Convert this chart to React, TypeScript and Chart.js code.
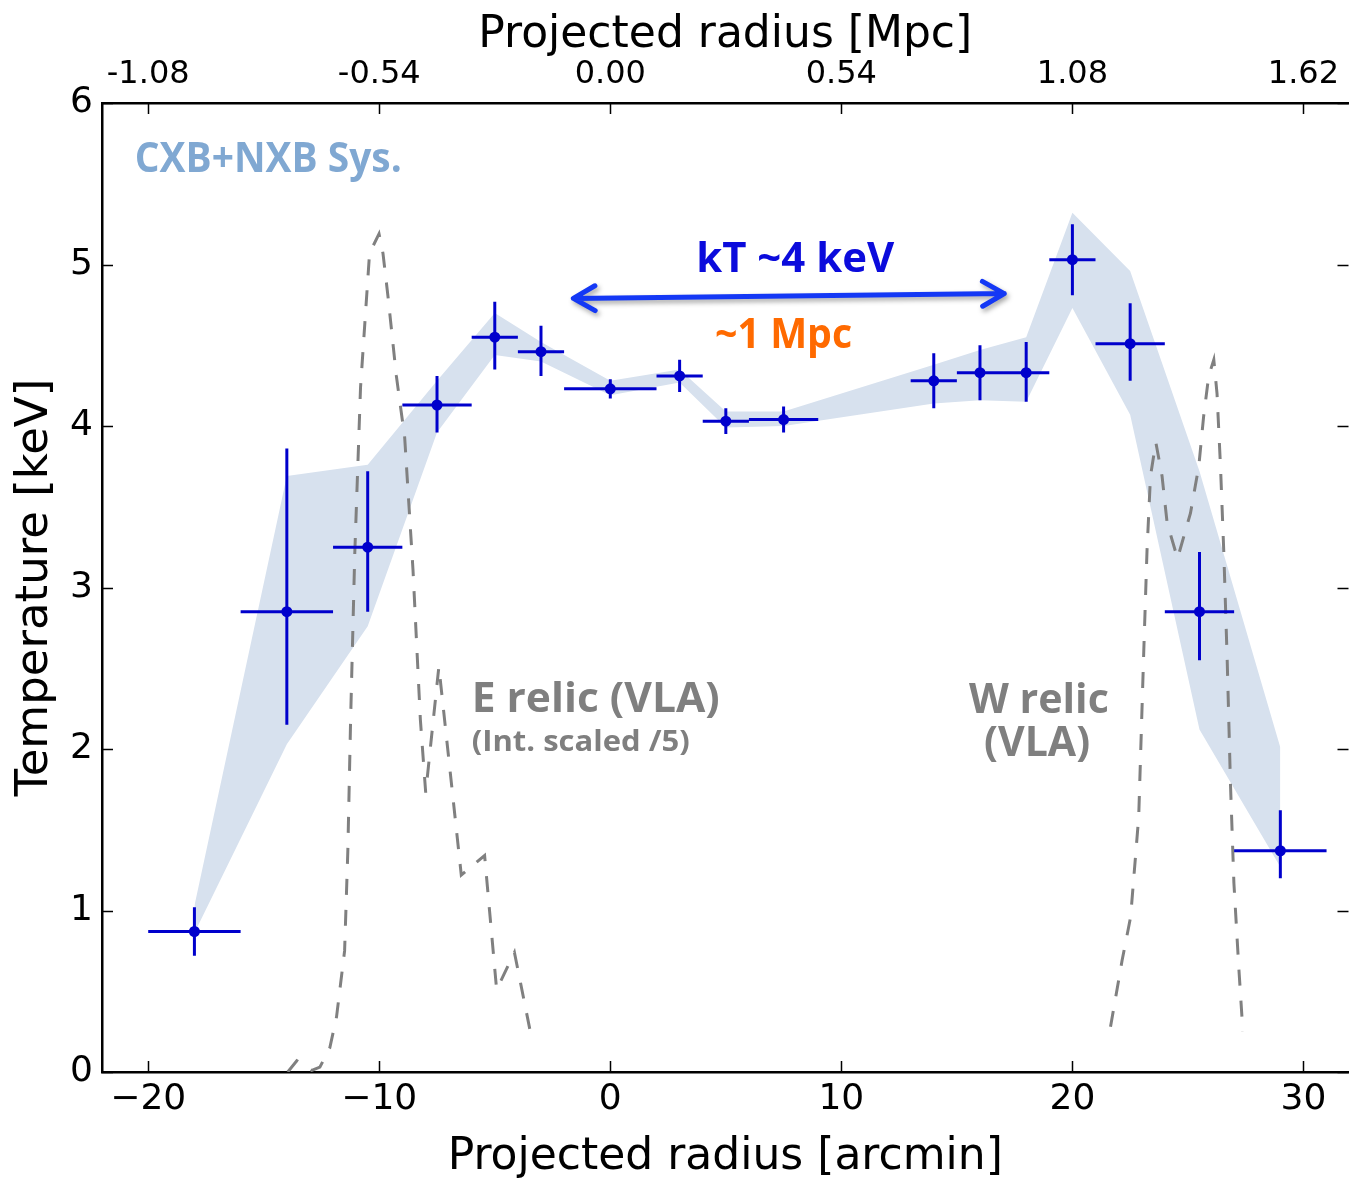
import { useEffect, useRef } from "react";
import { Chart, registerables } from "chart.js";

Chart.register(...registerables);

// Projected temperature profile across the cluster (arcmin, keV)
const radius = [-18, -14, -10.5, -7.5, -5, -3, 0, 3, 5, 7.5, 14, 16, 18, 20, 22.5, 25.5, 29];
const radiusErr = [2, 2, 1.5, 1.5, 1, 1, 2, 1, 1, 1.5, 1, 1, 1, 1, 1.5, 1.5, 2];
const temperature = [0.87, 2.85, 3.25, 4.13, 4.55, 4.46, 4.23, 4.31, 4.03, 4.04, 4.28, 4.33, 4.33, 5.03, 4.51, 2.85, 1.37];
const tempErrHi = [0.15, 1.01, 0.47, 0.18, 0.22, 0.16, 0.06, 0.1, 0.08, 0.08, 0.17, 0.17, 0.19, 0.22, 0.25, 0.37, 0.25];
const tempErrLo = [0.15, 0.7, 0.4, 0.17, 0.2, 0.15, 0.06, 0.1, 0.08, 0.08, 0.17, 0.17, 0.18, 0.22, 0.23, 0.3, 0.17];

// CXB+NXB systematic envelope
const sysUpper = [1.03, 3.69, 3.76, 4.28, 4.7, 4.52, 4.28, 4.35, 4.09, 4.09, 4.38, 4.47, 4.55, 5.32, 4.96, 3.72, 2.01];
const sysLower = [0.86, 2.03, 2.76, 3.96, 4.44, 4.4, 4.19, 4.27, 3.99, 4.0, 4.14, 4.16, 4.15, 4.73, 4.07, 2.12, 1.27];

// Radio relic brightness profiles (VLA), E relic intensity scaled by 1/5
const eRelicX = [-13.96, -13.57, -12.92, -12.57, -12.14, -11.85, -11.5, -11.36, -11.24, -11.06, -10.81, -10.42, -10.01, -9.84, -9.62, -9.26, -8.9, -8.54, -8.22, -7.99, -7.42, -6.45, -5.44, -4.92, -4.15, -3.42];
const eRelicY = [0.0, 0.07, 0.01, 0.03, 0.15, 0.34, 0.75, 1.37, 2.18, 3.21, 4.24, 5.07, 5.19, 5.07, 4.8, 4.31, 3.93, 3.11, 2.18, 1.73, 2.51, 1.22, 1.34, 0.51, 0.74, 0.22];
const wRelicX = [21.65, 22.15, 22.52, 22.87, 23.09, 23.23, 23.38, 23.61, 23.88, 24.1, 24.55, 25.11, 25.47, 25.68, 25.9, 26.12, 26.26, 26.41, 26.55, 26.7, 26.84, 26.99, 27.2, 27.38];
const wRelicY = [0.28, 0.69, 0.96, 1.58, 2.61, 3.23, 3.69, 3.9, 3.69, 3.4, 3.18, 3.46, 3.75, 4.06, 4.31, 4.41, 4.2, 3.75, 3.23, 2.55, 1.79, 1.17, 0.65, 0.25];

// Axes
const xTicks = [-20, -10, 0, 10, 20, 30];
const mpcTickLabels = ["-1.08", "-0.54", "0.00", "0.54", "1.08", "1.62"];
const yTicks = [0, 1, 2, 3, 4, 5, 6];
const X_MIN = -22;
const X_MAX = 31.95;

// ~1 Mpc span marker (arcmin, keV)
const arrowFrom = [-1.6, 4.79];
const arrowTo = [17.05, 4.82];

const BLUE = "#0000cc";
const ANNOT_FONT = '"Open Sans", "Noto Sans", sans-serif';
const AXIS_FONT = '"DejaVu Sans", sans-serif';

type Label = {
  text: string;
  x: number;
  y: number;
  width: number;
  cap: number;
  color: string;
  align: "left" | "center";
};

const labels: Label[] = [
  { text: "CXB+NXB Sys.", x: -20.58, y: 5.574, width: 267, cap: 29, color: "#80a8d2", align: "left" },
  { text: "kT ~4 keV", x: 8.0, y: 4.955, width: 198, cap: 30, color: "#0b0bdc", align: "center" },
  { text: "~1 Mpc", x: 7.5, y: 4.484, width: 137, cap: 30, color: "#ff6a00", align: "center" },
  { text: "E relic (VLA)", x: -6.0, y: 2.228, width: 248, cap: 30, color: "#7f7f7f", align: "left" },
  { text: "(Int. scaled /5)", x: -6.0, y: 1.99, width: 218, cap: 21, color: "#7f7f7f", align: "left" },
  { text: "W relic", x: 18.55, y: 2.222, width: 140, cap: 30, color: "#7f7f7f", align: "center" },
  { text: "(VLA)", x: 18.47, y: 1.955, width: 106, cap: 30, color: "#7f7f7f", align: "center" },
];

function drawFitted(ctx: CanvasRenderingContext2D, l: Label, px: number, py: number) {
  const size = l.cap / 0.714;
  ctx.save();
  ctx.font = `700 ${size}px ${ANNOT_FONT}`;
  const w = ctx.measureText(l.text).width;
  const sx = l.width / w;
  ctx.translate(l.align === "center" ? px - l.width / 2 : px, py);
  ctx.scale(sx, 1);
  ctx.fillStyle = l.color;
  ctx.textAlign = "left";
  ctx.textBaseline = "alphabetic";
  ctx.fillText(l.text, 0, 0);
  ctx.restore();
}

const annotationPlugin = {
  id: "profileAnnotations",
  afterDatasetsDraw(chart: any) {
    const { ctx } = chart;
    const xs = chart.scales.x;
    const ys = chart.scales.y;

    // double-headed arrow
    const x0 = xs.getPixelForValue(arrowFrom[0]);
    const y0 = ys.getPixelForValue(arrowFrom[1]);
    const x1 = xs.getPixelForValue(arrowTo[0]);
    const y1 = ys.getPixelForValue(arrowTo[1]);
    const ang = Math.atan2(y1 - y0, x1 - x0);
    const L = 25;
    const a = 0.52;
    ctx.save();
    ctx.shadowColor = "rgba(0,0,0,0.35)";
    ctx.shadowBlur = 5;
    ctx.shadowOffsetX = 2;
    ctx.shadowOffsetY = 3;
    ctx.strokeStyle = "#1438f5";
    ctx.lineWidth = 5;
    ctx.lineCap = "round";
    ctx.lineJoin = "round";
    ctx.beginPath();
    ctx.moveTo(x0, y0);
    ctx.lineTo(x1, y1);
    ctx.moveTo(x1 - L * Math.cos(ang - a), y1 - L * Math.sin(ang - a));
    ctx.lineTo(x1, y1);
    ctx.lineTo(x1 - L * Math.cos(ang + a), y1 - L * Math.sin(ang + a));
    ctx.moveTo(x0 + L * Math.cos(ang - a), y0 + L * Math.sin(ang - a));
    ctx.lineTo(x0, y0);
    ctx.lineTo(x0 + L * Math.cos(ang + a), y0 + L * Math.sin(ang + a));
    ctx.stroke();
    ctx.restore();

    for (const l of labels) {
      drawFitted(ctx, l, xs.getPixelForValue(l.x), ys.getPixelForValue(l.y));
    }
  },
};

// inward-pointing ticks on all four sides of the frame
const inwardTicksPlugin = {
  id: "inwardTicks",
  afterDraw(chart: any) {
    const { ctx, chartArea } = chart;
    const xs = chart.scales.x;
    const ys = chart.scales.y;
    const len = 11;
    ctx.save();
    ctx.strokeStyle = "#000";
    ctx.lineWidth = 1.5;
    ctx.beginPath();
    for (const v of xTicks) {
      const px = Math.round(xs.getPixelForValue(v)) + 0.5;
      ctx.moveTo(px, chartArea.bottom);
      ctx.lineTo(px, chartArea.bottom - len);
      ctx.moveTo(px, chartArea.top);
      ctx.lineTo(px, chartArea.top + len);
    }
    for (const v of yTicks) {
      const py = Math.round(ys.getPixelForValue(v)) + 0.5;
      ctx.moveTo(chartArea.left, py);
      ctx.lineTo(chartArea.left + len, py);
      ctx.moveTo(chartArea.right, py);
      ctx.lineTo(chartArea.right - len, py);
    }
    ctx.stroke();
    ctx.restore();
  },
};

function xErrorSegments() {
  const pts: { x: number; y: number | null }[] = [];
  radius.forEach((x, i) => {
    pts.push({ x: x - radiusErr[i], y: temperature[i] });
    pts.push({ x: x + radiusErr[i], y: temperature[i] });
    pts.push({ x: x + radiusErr[i], y: null });
  });
  return pts;
}

function yErrorSegments() {
  const pts: { x: number; y: number | null }[] = [];
  radius.forEach((x, i) => {
    pts.push({ x, y: temperature[i] - tempErrLo[i] });
    pts.push({ x, y: temperature[i] + tempErrHi[i] });
    pts.push({ x, y: null });
  });
  return pts;
}

const zip = (xs: number[], ys: number[]) => xs.map((x, i) => ({ x, y: ys[i] }));

// fixed axis box sizes, with no extra label overhang padding
const fixHeight = (h: number) => (s: any) => {
  s.height = h;
  s.paddingLeft = 0;
  s.paddingRight = 0;
  s.paddingTop = 0;
  s.paddingBottom = 0;
};
const fixWidth = (w: number) => (s: any) => {
  s.width = w;
  s.paddingLeft = 0;
  s.paddingRight = 0;
  s.paddingTop = 0;
  s.paddingBottom = 0;
};

// the frame's right spine sits just past the visible edge
const CANVAS_W = 1354;
const CANVAS_H = 1179;

export default function App() {
  const canvasRef = useRef<HTMLCanvasElement | null>(null);

  useEffect(() => {
    const canvas = canvasRef.current;
    if (!canvas) return;

    const tickFont = { family: AXIS_FONT, size: 36 };
    const chart = new Chart(canvas, {
      type: "line",
      data: {
        datasets: [
          {
            label: "sys upper",
            data: zip(radius, sysUpper),
            borderColor: "rgba(0,0,0,0)",
            backgroundColor: "#d7e1ee",
            pointRadius: 0,
            fill: "+1",
            order: 10,
          },
          {
            label: "sys lower",
            data: zip(radius, sysLower),
            borderColor: "rgba(0,0,0,0)",
            pointRadius: 0,
            fill: false,
            order: 11,
          },
          {
            label: "E relic",
            data: zip(eRelicX, eRelicY),
            borderColor: "#808080",
            borderWidth: 3,
            borderDash: [16, 15],
            pointRadius: 0,
            fill: false,
            order: 8,
          },
          {
            label: "W relic",
            data: zip(wRelicX, wRelicY),
            borderColor: "#808080",
            borderWidth: 3,
            borderDash: [16, 15],
            pointRadius: 0,
            fill: false,
            order: 8,
          },
          {
            label: "radius error",
            data: xErrorSegments(),
            borderColor: BLUE,
            borderWidth: 3,
            pointRadius: 0,
            fill: false,
            spanGaps: false,
            order: 4,
          },
          {
            label: "temperature error",
            data: yErrorSegments(),
            borderColor: BLUE,
            borderWidth: 3,
            pointRadius: 0,
            fill: false,
            spanGaps: false,
            order: 4,
          },
          {
            label: "kT",
            data: zip(radius, temperature),
            showLine: false,
            pointRadius: 5.5,
            pointBackgroundColor: BLUE,
            pointBorderWidth: 0,
            order: 1,
          },
        ],
      },
      options: {
        responsive: false,
        animation: false,
        devicePixelRatio: 1,
        events: [],
        layout: { padding: 0 },
        elements: { line: { tension: 0 } },
        plugins: {
          legend: { display: false },
          tooltip: { enabled: false },
        },
        scales: {
          x: {
            type: "linear",
            position: "bottom",
            min: X_MIN,
            max: X_MAX,
            afterBuildTicks: (axis: any) => {
              axis.ticks = xTicks.map((v) => ({ value: v }));
            },
            afterFit: fixHeight(107),
            ticks: {
              font: tickFont,
              color: "#000",
              padding: 6,
              maxRotation: 0,
              autoSkip: false,
              callback: (v: any) => (Number(v) < 0 ? "\u2212" + Math.abs(Number(v)) : String(v)),
            },
            grid: { display: false, drawTicks: false },
            border: { display: true, color: "#000", width: 2.5 },
            title: {
              display: true,
              text: "Projected radius [arcmin]",
              color: "#000",
              font: { family: AXIS_FONT, size: 44, lineHeight: 1 },
              padding: { top: 0, bottom: -1 },
            },
          },
          x2: {
            type: "linear",
            position: "top",
            min: X_MIN,
            max: X_MAX,
            afterBuildTicks: (axis: any) => {
              axis.ticks = xTicks.map((v) => ({ value: v }));
            },
            afterFit: fixHeight(103),
            ticks: {
              font: { family: AXIS_FONT, size: 32 },
              color: "#000",
              padding: 9,
              maxRotation: 0,
              autoSkip: false,
              callback: (_v: any, i: number) => mpcTickLabels[i],
            },
            grid: { display: false, drawTicks: false },
            border: { display: true, color: "#000", width: 2.5 },
            title: {
              display: true,
              text: "Projected radius [Mpc]",
              color: "#000",
              font: { family: AXIS_FONT, size: 44, lineHeight: 1 },
              padding: { top: 14, bottom: 0 },
            },
          },
          y: {
            type: "linear",
            position: "left",
            min: 0,
            max: 6,
            afterBuildTicks: (axis: any) => {
              axis.ticks = yTicks.map((v) => ({ value: v }));
            },
            afterFit: fixWidth(102),
            ticks: {
              font: tickFont,
              color: "#000",
              padding: 9,
              autoSkip: false,
            },
            grid: { display: false, drawTicks: false },
            border: { display: true, color: "#000", width: 2.5 },
            title: {
              display: true,
              text: "Temperature [keV]",
              color: "#000",
              font: { family: AXIS_FONT, size: 45, lineHeight: 1 },
              padding: { top: 13, bottom: 0 },
            },
          },
        },
      },
      plugins: [annotationPlugin, inwardTicksPlugin],
    } as any);

    return () => {
      chart.destroy();
    };
  }, []);

  return (
    <div
      style={{
        position: "absolute",
        left: 0,
        top: 0,
        width: 1350,
        height: CANVAS_H,
        overflow: "hidden",
        background: "#fff",
      }}
    >
      <canvas ref={canvasRef} width={CANVAS_W} height={CANVAS_H} style={{ display: "block" }} />
    </div>
  );
}
